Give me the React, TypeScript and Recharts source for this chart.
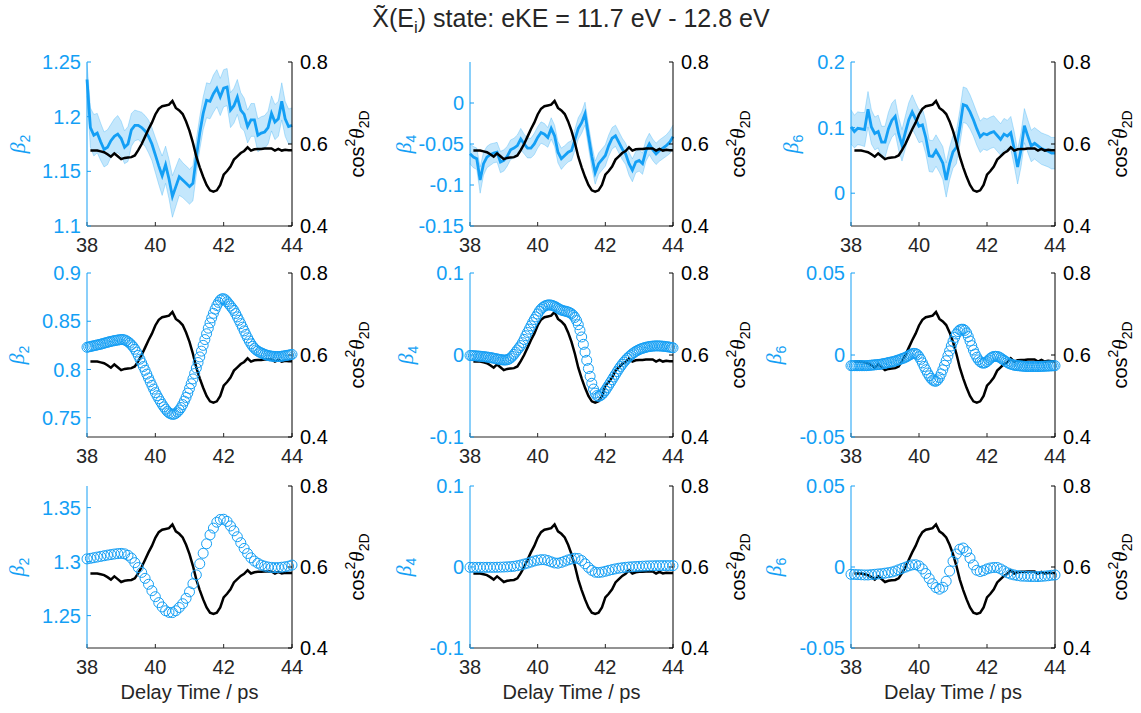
import React from 'react';
import { ComposedChart, Line, Area, XAxis, YAxis } from 'recharts';

const BLUE = '#149ff5';
const INK = '#262626';
const FONT = '"Liberation Sans", Arial, Helvetica, sans-serif';
const SERIF = '"Liberation Serif", "DejaVu Serif", serif';

// delay time grids (ps)
const T10 = [
  38, 38.1, 38.2, 38.3, 38.4, 38.5, 38.6, 38.7, 38.8, 38.9,
  39, 39.1, 39.2, 39.3, 39.4, 39.5, 39.6, 39.7, 39.8, 39.9,
  40, 40.1, 40.2, 40.3, 40.4, 40.5, 40.6, 40.7, 40.8, 40.9,
  41, 41.1, 41.2, 41.3, 41.4, 41.5, 41.6, 41.7, 41.8, 41.9,
  42, 42.1, 42.2, 42.3, 42.4, 42.5, 42.6, 42.7, 42.8, 42.9,
  43, 43.1, 43.2, 43.3, 43.4, 43.5, 43.6, 43.7, 43.8, 43.9, 44,
];
const T05 = [
  38, 38.05, 38.1, 38.15, 38.2, 38.25, 38.3, 38.35, 38.4, 38.45,
  38.5, 38.55, 38.6, 38.65, 38.7, 38.75, 38.8, 38.85, 38.9, 38.95,
  39, 39.05, 39.1, 39.15, 39.2, 39.25, 39.3, 39.35, 39.4, 39.45,
  39.5, 39.55, 39.6, 39.65, 39.7, 39.75, 39.8, 39.85, 39.9, 39.95,
  40, 40.05, 40.1, 40.15, 40.2, 40.25, 40.3, 40.35, 40.4, 40.45,
  40.5, 40.55, 40.6, 40.65, 40.7, 40.75, 40.8, 40.85, 40.9, 40.95,
  41, 41.05, 41.1, 41.15, 41.2, 41.25, 41.3, 41.35, 41.4, 41.45,
  41.5, 41.55, 41.6, 41.65, 41.7, 41.75, 41.8, 41.85, 41.9, 41.95,
  42, 42.05, 42.1, 42.15, 42.2, 42.25, 42.3, 42.35, 42.4, 42.45,
  42.5, 42.55, 42.6, 42.65, 42.7, 42.75, 42.8, 42.85, 42.9, 42.95,
  43, 43.05, 43.1, 43.15, 43.2, 43.25, 43.3, 43.35, 43.4, 43.45,
  43.5, 43.55, 43.6, 43.65, 43.7, 43.75, 43.8, 43.85, 43.9, 43.95, 44,
];

// <cos^2 theta_2D>, from 38.1 ps
const COS_T = T10.slice(1);
const COS2 = [
  0.584, 0.584, 0.584, 0.582, 0.580, 0.575, 0.569, 0.577, 0.570,
  0.563, 0.566, 0.567, 0.568, 0.572, 0.585, 0.600, 0.618, 0.636, 0.652,
  0.672, 0.686, 0.692, 0.694, 0.696, 0.705, 0.688, 0.682, 0.673, 0.655,
  0.632, 0.603, 0.569, 0.543, 0.520, 0.500, 0.487, 0.484, 0.487, 0.500,
  0.525, 0.534, 0.545, 0.562, 0.570, 0.578, 0.583, 0.592, 0.584, 0.587,
  0.588, 0.588, 0.589, 0.589, 0.589, 0.584, 0.588, 0.584, 0.586, 0.585, 0.585,
];

// row 1: measured beta parameters and uncertainty
const B2_MEAS = [
  1.234, 1.190, 1.183, 1.185, 1.177, 1.170, 1.172, 1.178, 1.182, 1.184,
  1.180, 1.172, 1.175, 1.188, 1.192, 1.192, 1.190, 1.187, 1.182, 1.175,
  1.165, 1.155, 1.146, 1.156, 1.143, 1.127, 1.136, 1.145, 1.142, 1.139,
  1.136, 1.139, 1.163, 1.185, 1.203, 1.215, 1.214, 1.221, 1.226, 1.218,
  1.226, 1.227, 1.206, 1.210, 1.218, 1.206, 1.202, 1.191, 1.197, 1.197,
  1.183, 1.185, 1.186, 1.190, 1.203, 1.195, 1.198, 1.214, 1.198, 1.191, 1.192,
];
const B2_ERR = [
  0.015, 0.018, 0.019, 0.018, 0.017, 0.016, 0.016, 0.015, 0.016, 0.017,
  0.016, 0.015, 0.016, 0.015, 0.014, 0.013, 0.014, 0.014, 0.015, 0.015,
  0.016, 0.017, 0.018, 0.017, 0.018, 0.019, 0.018, 0.017, 0.016, 0.016,
  0.016, 0.016, 0.016, 0.015, 0.015, 0.016, 0.016, 0.017, 0.017, 0.017,
  0.017, 0.017, 0.016, 0.016, 0.016, 0.016, 0.015, 0.015, 0.015, 0.015,
  0.015, 0.015, 0.015, 0.015, 0.016, 0.016, 0.016, 0.017, 0.016, 0.016, 0.016,
];
const B4_MEAS = [
  -0.062, -0.066, -0.068, -0.094, -0.074, -0.066, -0.063, -0.061, -0.060, -0.072,
  -0.070, -0.065, -0.057, -0.055, -0.052, -0.044, -0.050, -0.055, -0.055, -0.050,
  -0.042, -0.036, -0.038, -0.042, -0.031, -0.040, -0.060, -0.068, -0.064, -0.060,
  -0.058, -0.045, -0.031, -0.024, -0.013, -0.040, -0.065, -0.085, -0.074, -0.069,
  -0.064, -0.052, -0.043, -0.040, -0.048, -0.056, -0.062, -0.074, -0.082, -0.072,
  -0.070, -0.074, -0.058, -0.050, -0.057, -0.062, -0.058, -0.055, -0.052, -0.048, -0.041,
];
const B4_ERR = [
  0.012, 0.013, 0.013, 0.016, 0.014, 0.013, 0.013, 0.012, 0.012, 0.013,
  0.013, 0.012, 0.012, 0.012, 0.013, 0.013, 0.012, 0.012, 0.012, 0.013,
  0.013, 0.013, 0.013, 0.012, 0.013, 0.013, 0.013, 0.013, 0.012, 0.012,
  0.012, 0.013, 0.013, 0.013, 0.014, 0.014, 0.014, 0.014, 0.013, 0.013,
  0.013, 0.013, 0.013, 0.013, 0.013, 0.013, 0.013, 0.014, 0.014, 0.013,
  0.013, 0.013, 0.013, 0.013, 0.013, 0.013, 0.013, 0.013, 0.013, 0.014, 0.014,
];
const B6_MEAS = [
  0.101, 0.094, 0.099, 0.098, 0.097, 0.128, 0.101, 0.091, 0.094, 0.078,
  0.078, 0.098, 0.111, 0.117, 0.091, 0.073, 0.093, 0.112, 0.124, 0.113,
  0.102, 0.104, 0.085, 0.057, 0.056, 0.065, 0.056, 0.046, 0.020, 0.045,
  0.063, 0.070, 0.100, 0.135, 0.133, 0.124, 0.112, 0.098, 0.086, 0.091,
  0.089, 0.092, 0.094, 0.088, 0.082, 0.090, 0.087, 0.092, 0.068, 0.040,
  0.066, 0.103, 0.087, 0.072, 0.076, 0.072, 0.068, 0.066, 0.064, 0.061, 0.061,
];
const B6_ERR = [
  0.026, 0.025, 0.025, 0.025, 0.026, 0.027, 0.026, 0.025, 0.025, 0.024,
  0.024, 0.025, 0.026, 0.026, 0.025, 0.024, 0.025, 0.026, 0.026, 0.025,
  0.025, 0.025, 0.025, 0.024, 0.024, 0.024, 0.024, 0.025, 0.026, 0.025,
  0.025, 0.025, 0.026, 0.027, 0.027, 0.026, 0.025, 0.025, 0.024, 0.024,
  0.024, 0.024, 0.024, 0.024, 0.024, 0.024, 0.024, 0.025, 0.026, 0.026,
  0.026, 0.026, 0.025, 0.024, 0.024, 0.024, 0.024, 0.024, 0.024, 0.024, 0.024,
];

// row 2: fitted betas, fine grid
const B2_FIT_A = [
  0.8230, 0.8234, 0.8238, 0.8242, 0.8246, 0.8250, 0.8254, 0.8258, 0.8262, 0.8267,
  0.8272, 0.8277, 0.8282, 0.8287, 0.8291, 0.8295, 0.8299, 0.8302, 0.8305, 0.8308,
  0.8310, 0.8310, 0.8306, 0.8298, 0.8287, 0.8273, 0.8255, 0.8235, 0.8210, 0.8180,
  0.8145, 0.8107, 0.8068, 0.8030, 0.7992, 0.7952, 0.7912, 0.7873, 0.7835, 0.7797,
  0.7760, 0.7728, 0.7697, 0.7667, 0.7638, 0.7612, 0.7588, 0.7566, 0.7550, 0.7540,
  0.7535, 0.7536, 0.7545, 0.7560, 0.7580, 0.7605, 0.7636, 0.7672, 0.7710, 0.7755,
  0.7803, 0.7852, 0.7902, 0.7958, 0.8015, 0.8072, 0.8130, 0.8190, 0.8250, 0.8310,
  0.8370, 0.8428, 0.8483, 0.8535, 0.8582, 0.8625, 0.8663, 0.8695, 0.8720, 0.8732,
  0.8733, 0.8722, 0.8702, 0.8680, 0.8658, 0.8635, 0.8612, 0.8580, 0.8545, 0.8510,
  0.8475, 0.8438, 0.8400, 0.8363, 0.8328, 0.8295, 0.8265, 0.8240, 0.8220, 0.8203,
  0.8190, 0.8180, 0.8172, 0.8164, 0.8157, 0.8150, 0.8145, 0.8141, 0.8138, 0.8136,
  0.8135, 0.8134, 0.8134, 0.8135, 0.8137, 0.8140, 0.8143, 0.8146, 0.8149, 0.8152, 0.8156,
];
const B4_FIT_A = [
  -0.0006, -0.0007, -0.0009, -0.0010, -0.0012, -0.0013, -0.0015, -0.0017, -0.0020, -0.0022,
  -0.0025, -0.0028, -0.0031, -0.0035, -0.0039, -0.0044, -0.0048, -0.0052, -0.0056, -0.0059,
  -0.0061, -0.0061, -0.0058, -0.0050, -0.0036, -0.0016, 0.0008, 0.0035, 0.0062, 0.0088,
  0.0115, 0.0150, 0.0190, 0.0235, 0.0275, 0.0315, 0.0355, 0.0395, 0.0432, 0.0465,
  0.0500, 0.0535, 0.0560, 0.0580, 0.0595, 0.0605, 0.0610, 0.0611, 0.0608, 0.0602,
  0.0594, 0.0583, 0.0570, 0.0558, 0.0548, 0.0541, 0.0536, 0.0531, 0.0525, 0.0516,
  0.0503, 0.0485, 0.0458, 0.0420, 0.0370, 0.0300, 0.0220, 0.0130, 0.0035, -0.0065,
  -0.0165, -0.0260, -0.0345, -0.0415, -0.0465, -0.0495, -0.0505, -0.0498, -0.0482, -0.0460,
  -0.0432, -0.0400, -0.0368, -0.0335, -0.0302, -0.0268, -0.0235, -0.0202, -0.0170, -0.0140,
  -0.0112, -0.0086, -0.0062, -0.0040, -0.0020, -0.0002, 0.0015, 0.0030, 0.0044, 0.0056,
  0.0066, 0.0075, 0.0082, 0.0088, 0.0094, 0.0099, 0.0103, 0.0106, 0.0108, 0.0110,
  0.0111, 0.0111, 0.0110, 0.0109, 0.0107, 0.0105, 0.0102, 0.0099, 0.0096, 0.0092, 0.0088,
];
const B6_FIT_A = [
  -0.0065, -0.0065, -0.0065, -0.0065, -0.0065, -0.0065, -0.0065, -0.0065, -0.0065, -0.0065,
  -0.0064, -0.0063, -0.0062, -0.0061, -0.0060, -0.0059, -0.0058, -0.0057, -0.0055, -0.0053,
  -0.0051, -0.0049, -0.0046, -0.0044, -0.0042, -0.0040, -0.0037, -0.0033, -0.0030, -0.0026,
  -0.0022, -0.0019, -0.0014, -0.0009, -0.0003, 0.0003, 0.0008, 0.0010, 0.0009, 0.0003,
  -0.0010, -0.0027, -0.0048, -0.0070, -0.0090, -0.0110, -0.0127, -0.0142, -0.0153, -0.0159,
  -0.0160, -0.0152, -0.0137, -0.0115, -0.0090, -0.0063, -0.0035, -0.0005, 0.0025, 0.0055,
  0.0083, 0.0107, 0.0128, 0.0143, 0.0153, 0.0157, 0.0157, 0.0150, 0.0135, 0.0112,
  0.0085, 0.0057, 0.0030, 0.0006, -0.0014, -0.0030, -0.0041, -0.0048, -0.0050, -0.0047,
  -0.0040, -0.0030, -0.0020, -0.0013, -0.0009, -0.0008, -0.0009, -0.0012, -0.0018, -0.0025,
  -0.0032, -0.0039, -0.0046, -0.0052, -0.0056, -0.0059, -0.0062, -0.0064, -0.0065, -0.0066,
  -0.0067, -0.0068, -0.0069, -0.0070, -0.0070, -0.0070, -0.0070, -0.0070, -0.0070, -0.0070,
  -0.0070, -0.0070, -0.0069, -0.0069, -0.0068, -0.0068, -0.0067, -0.0067, -0.0066, -0.0066, -0.0065,
];

// row 3: fitted betas, coarse grid
const B2_FIT_B = [
  1.3025, 1.3030, 1.3036, 1.3042, 1.3048, 1.3054, 1.3060, 1.3065, 1.3070, 1.3074,
  1.3076, 1.3072, 1.3058, 1.3032, 1.2990, 1.2945, 1.2900, 1.2845, 1.2790, 1.2730,
  1.2675, 1.2620, 1.2580, 1.2545, 1.2530, 1.2528, 1.2545, 1.2575, 1.2610, 1.2660,
  1.2720, 1.2795, 1.2877, 1.2980, 1.3077, 1.3165, 1.3247, 1.3310, 1.3365, 1.3390,
  1.3392, 1.3372, 1.3330, 1.3285, 1.3230, 1.3175, 1.3122, 1.3075, 1.3035, 1.3005,
  1.2985, 1.2968, 1.2958, 1.2950, 1.2946, 1.2944, 1.2945, 1.2948, 1.2952, 1.2958, 1.2968,
];
const B4_FIT_B = [
  -0.0004, -0.0004, -0.0004, -0.0004, -0.0004, -0.0004, -0.0004, -0.0004, -0.0003, -0.0002,
  0.0000, 0.0002, 0.0005, 0.0009, 0.0016, 0.0025, 0.0036, 0.0048, 0.0061, 0.0074,
  0.0084, 0.0090, 0.0090, 0.0080, 0.0064, 0.0050, 0.0047, 0.0057, 0.0072, 0.0087,
  0.0099, 0.0108, 0.0105, 0.0080, 0.0040, -0.0005, -0.0042, -0.0064, -0.0068, -0.0063,
  -0.0053, -0.0042, -0.0032, -0.0023, -0.0015, -0.0009, -0.0004, 0.0000, 0.0003, 0.0006,
  0.0008, 0.0010, 0.0012, 0.0014, 0.0015, 0.0016, 0.0017, 0.0017, 0.0017, 0.0017, 0.0017,
];
const B6_FIT_B = [
  -0.0045, -0.0046, -0.0047, -0.0048, -0.0049, -0.0049, -0.0047, -0.0045, -0.0043, -0.0041,
  -0.0038, -0.0035, -0.0031, -0.0025, -0.0017, -0.0009, -0.0001, 0.0007, 0.0013, 0.0014,
  0.0007, -0.0012, -0.0040, -0.0071, -0.0103, -0.0127, -0.0137, -0.0125, -0.0088, -0.0025,
  0.0035, 0.0080, 0.0110, 0.0117, 0.0095, 0.0055, 0.0013, -0.0020, -0.0028, -0.0022,
  -0.0012, -0.0006, -0.0003, -0.0003, -0.0012, -0.0024, -0.0036, -0.0044, -0.0049, -0.0053,
  -0.0056, -0.0057, -0.0058, -0.0059, -0.0059, -0.0059, -0.0058, -0.0056, -0.0054, -0.0051, -0.0049,
];

const X_TICKS = [38, 40, 42, 44];
const COS_TICKS = [0.4, 0.6, 0.8];

// plot boxes in page pixels
const COLS = [
  { x0: 87, w: 205 },
  { x0: 470, w: 203 },
  { x0: 851, w: 204 },
];
const ROWS = [
  { y0: 62, h: 164 },
  { y0: 273, h: 164 },
  { y0: 486, h: 162 },
];

const PANELS = [
  { r: 0, c: 0, n: '2', t: T10, v: B2_MEAS, e: B2_ERR, dom: [1.1, 1.25], ticks: [1.1, 1.15, 1.2, 1.25], off: 68 },
  { r: 0, c: 1, n: '4', t: T10, v: B4_MEAS, e: B4_ERR, dom: [-0.15, 0.05], ticks: [-0.15, -0.1, -0.05, 0], off: 65 },
  { r: 0, c: 2, n: '6', t: T10, v: B6_MEAS, e: B6_ERR, dom: [-0.05, 0.2], ticks: [0, 0.1, 0.2], off: 59 },
  { r: 1, c: 0, n: '2', t: T05, v: B2_FIT_A, dom: [0.73, 0.9], ticks: [0.75, 0.8, 0.85, 0.9], off: 69 },
  { r: 1, c: 1, n: '4', t: T05, v: B4_FIT_A, dom: [-0.1, 0.1], ticks: [-0.1, 0, 0.1], off: 63 },
  { r: 1, c: 2, n: '6', t: T05, v: B6_FIT_A, dom: [-0.05, 0.05], ticks: [-0.05, 0, 0.05], off: 76 },
  { r: 2, c: 0, n: '2', t: T10, v: B2_FIT_B, dom: [1.22, 1.37], ticks: [1.25, 1.3, 1.35], off: 69 },
  { r: 2, c: 1, n: '4', t: T10, v: B4_FIT_B, dom: [-0.1, 0.1], ticks: [-0.1, 0, 0.1], off: 65 },
  { r: 2, c: 2, n: '6', t: T10, v: B6_FIT_B, dom: [-0.05, 0.05], ticks: [-0.05, 0, 0.05], off: 76 },
];

const cosData = COS_T.map((t, i) => ({ t, c: COS2[i] }));

const BetaLabel = (props: any) => {
  const { viewBox, n, off } = props;
  if (!viewBox) return null;
  const cx = viewBox.x + viewBox.width - off;
  const cy = viewBox.y + viewBox.height / 2;
  return (
    <text transform={`translate(${cx},${cy}) rotate(-90)`} y={6} textAnchor="middle" fill={BLUE} fontSize={20} fontFamily={FONT}>
      <tspan fontFamily={SERIF} fontStyle="italic" fontSize={22}>β</tspan>
      <tspan fontSize={14} dy={5}>{n}</tspan>
    </text>
  );
};

const CosLabel = (props: any) => {
  const { viewBox } = props;
  if (!viewBox) return null;
  const cx = viewBox.x + 65;
  const cy = viewBox.y + viewBox.height / 2;
  return (
    <text transform={`translate(${cx},${cy}) rotate(-90)`} y={7} textAnchor="middle" fill="#000" fontSize={20} fontFamily={FONT}>
      cos
      <tspan fontSize={14} dy={-9}>2</tspan>
      <tspan fontFamily={SERIF} fontStyle="italic" fontSize={21} dy={9}>θ</tspan>
      <tspan fontSize={14} dy={5}>2D</tspan>
    </text>
  );
};

const XLabel = (props: any) => {
  const { viewBox } = props;
  if (!viewBox) return null;
  return (
    <text x={viewBox.x + viewBox.width / 2} y={viewBox.y + 51} textAnchor="middle" fill={INK} fontSize={20} fontFamily={FONT}>
      Delay Time / ps
    </text>
  );
};

const LW = 100;
const RW = 85;
const TOP = 14;

function Panel({ p }: { p: any }) {
  const col = COLS[p.c];
  const row = ROWS[p.r];
  const xh = p.r === 2 ? 64 : 40;
  const width = LW + col.w + RW;
  const height = TOP + row.h + xh;
  const blue = p.t.map((t: number, i: number) => ({
    t,
    v: p.v[i],
    band: p.e ? [p.v[i] - p.e[i], p.v[i] + p.e[i]] : null,
  }));
  const tickFont = { fontSize: 20, fontFamily: FONT };

  return (
    <div style={{ position: 'absolute', left: col.x0 - LW, top: row.y0 - TOP }}>
      <ComposedChart width={width} height={height} margin={{ top: TOP, right: 0, bottom: 0, left: 0 }}>
        <XAxis
          dataKey="t"
          type="number"
          domain={[38, 44]}
          ticks={X_TICKS}
          interval={0}
          height={xh}
          stroke={INK}
          tick={{ ...tickFont, fill: INK }}
          tickSize={-4}
          tickMargin={16}
          label={p.r === 2 ? <XLabel /> : undefined}
        />
        <XAxis
          xAxisId="top"
          orientation="top"
          dataKey="t"
          type="number"
          domain={[38, 44]}
          ticks={X_TICKS}
          interval={0}
          height={0}
          stroke={INK}
          tickFormatter={() => ''}
          tickSize={-4}
        />
        <YAxis
          yAxisId="L"
          orientation="left"
          type="number"
          width={LW}
          domain={p.dom}
          ticks={p.ticks}
          interval={0}
          stroke={BLUE}
          tick={{ ...tickFont, fill: BLUE }}
          tickSize={-4}
          tickMargin={10}
          label={<BetaLabel n={p.n} off={p.off} />}
        />
        <YAxis
          yAxisId="R"
          orientation="right"
          type="number"
          width={RW}
          domain={[0.4, 0.8]}
          ticks={COS_TICKS}
          interval={0}
          stroke="#000"
          tick={{ ...tickFont, fill: '#000' }}
          tickSize={-4}
          tickMargin={12}
          label={<CosLabel />}
        />
        {p.e && (
          <Area
            yAxisId="L"
            data={blue}
            dataKey="band"
            type="linear"
            stroke={BLUE}
            strokeOpacity={0.35}
            strokeWidth={0.8}
            fill={BLUE}
            fillOpacity={0.25}
            isAnimationActive={false}
          />
        )}
        {p.e ? (
          <Line
            yAxisId="L"
            data={blue}
            dataKey="v"
            type="linear"
            stroke={BLUE}
            strokeWidth={2.8}
            dot={false}
            isAnimationActive={false}
          />
        ) : (
          <Line
            yAxisId="L"
            data={blue}
            dataKey="v"
            type="linear"
            stroke="none"
            dot={{ r: 5, fill: 'none', stroke: BLUE, strokeWidth: 1 }}
            isAnimationActive={false}
          />
        )}
        <Line
          yAxisId="R"
          data={cosData}
          dataKey="c"
          type="linear"
          stroke="#000"
          strokeWidth={2.5}
          dot={false}
          isAnimationActive={false}
        />
      </ComposedChart>
    </div>
  );
}

export default function App() {
  return (
    <div style={{ position: 'absolute', left: 0, top: 0, width: 1141, height: 713, overflow: 'hidden', background: '#fff' }}>
      <svg width={1141} height={44} style={{ position: 'absolute', left: 0, top: 0 }}>
        <text x={571} y={27} textAnchor="middle" fill={INK} fontSize={25} fontFamily={FONT}>
          X&#771;(E
          <tspan fontSize={17} dy={6}>i</tspan>
          <tspan dy={-6}>) state: eKE = 11.7 eV - 12.8 eV</tspan>
        </text>
      </svg>
      {PANELS.map((p, i) => (
        <Panel key={i} p={p} />
      ))}
    </div>
  );
}
